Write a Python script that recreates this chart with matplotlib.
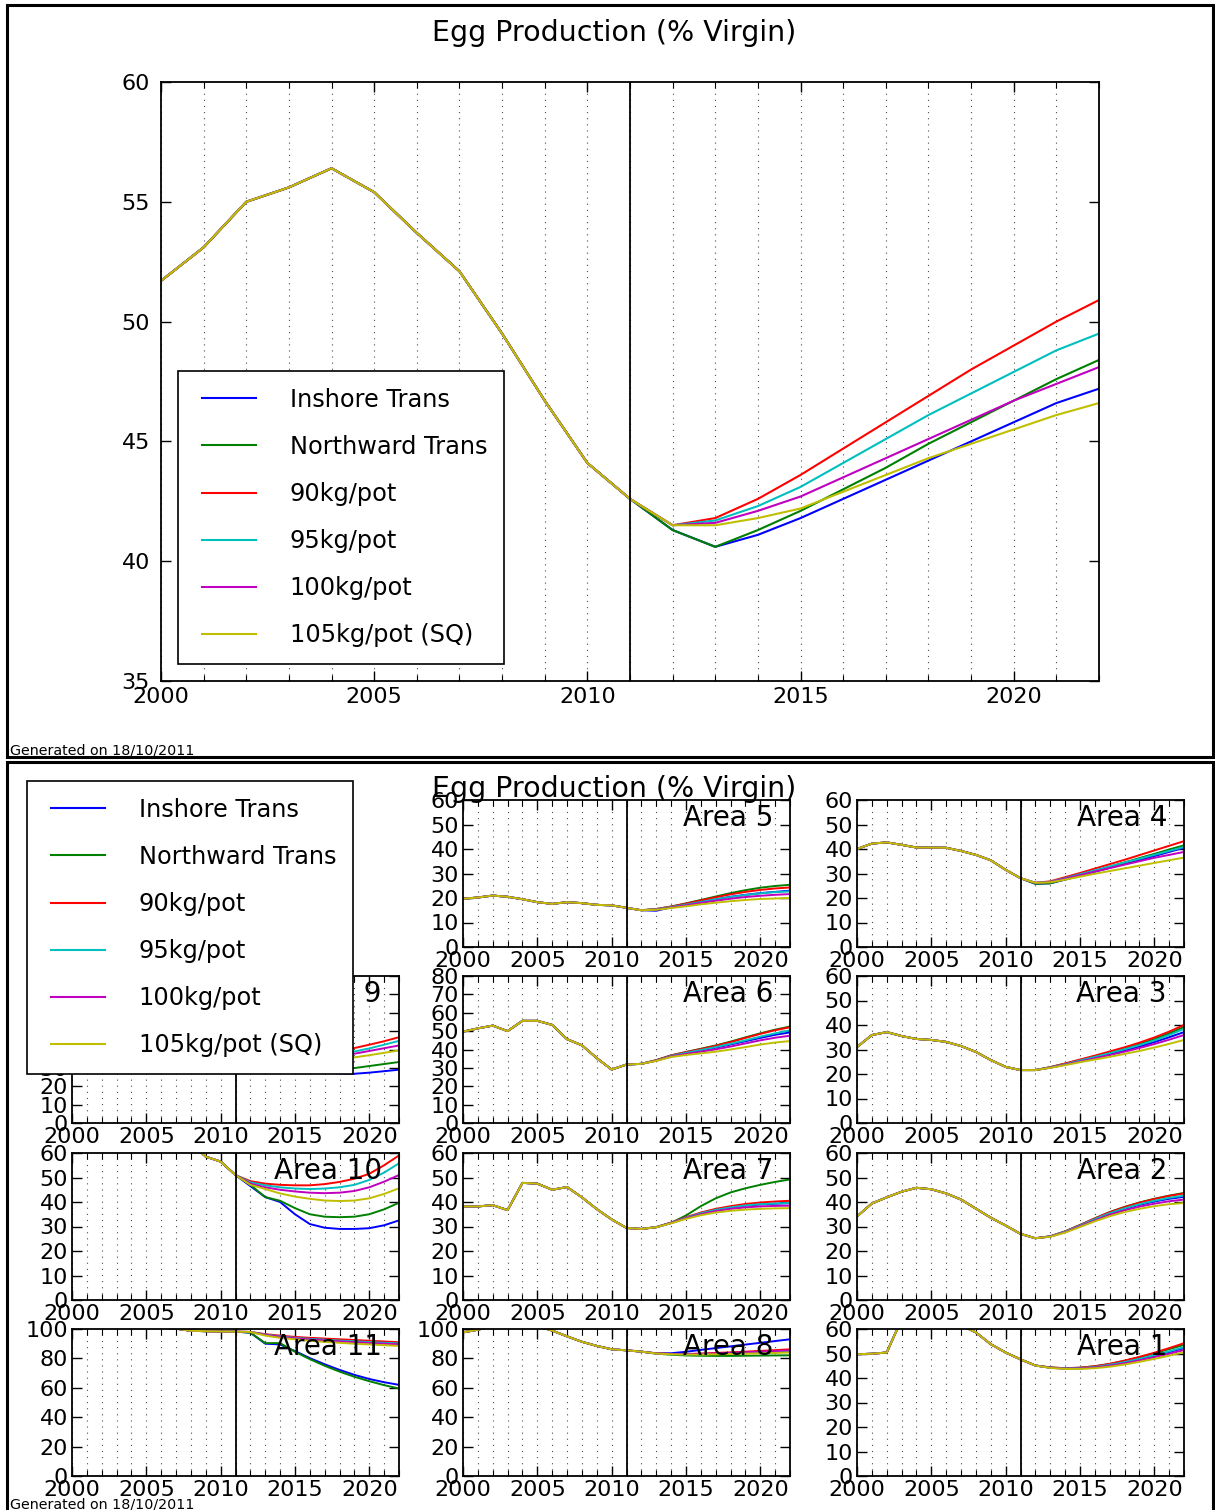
import matplotlib
matplotlib.use("Agg")
import matplotlib.pyplot as plt
from matplotlib.ticker import MultipleLocator
from matplotlib.patches import Rectangle
from matplotlib.lines import Line2D

# ---------------------------------------------------------------- data
years = list(range(2000, 2023))

scenarios = ["Inshore Trans", "Northward Trans", "90kg/pot",
             "95kg/pot", "100kg/pot", "105kg/pot (SQ)"]
scenario_colors = ["#0000ff", "#008000", "#ff0000",
                   "#00bfbf", "#bf00bf", "#bfbf00"]

# Whole fishery, egg production as % of virgin
total_hist = [51.7, 53.1, 55.0, 55.6, 56.4, 55.4, 53.7, 52.1, 49.5, 46.7, 44.1, 42.6]
total_inshore = [41.3, 40.6, 41.1, 41.8, 42.6, 43.4, 44.2, 45.0, 45.8, 46.6, 47.2]
total_northward = [41.3, 40.6, 41.3, 42.1, 43.0, 43.9, 44.9, 45.8, 46.7, 47.6, 48.4]
total_90 = [41.5, 41.8, 42.6, 43.6, 44.7, 45.8, 46.9, 48.0, 49.0, 50.0, 50.9]
total_95 = [41.5, 41.7, 42.3, 43.1, 44.1, 45.1, 46.1, 47.0, 47.9, 48.8, 49.5]
total_100 = [41.5, 41.6, 42.1, 42.7, 43.5, 44.3, 45.1, 45.9, 46.7, 47.4, 48.1]
total_105 = [41.5, 41.5, 41.8, 42.2, 42.9, 43.6, 44.3, 44.9, 45.5, 46.1, 46.6]

# Per-area history (2000-2011) and projections (2012-2022), scenario order as above
area5_hist = [19.7, 20.2, 21.0, 20.5, 19.5, 18.3, 17.6, 18.3, 17.9, 17.2, 17.0, 16.0]
area5_proj = [
    [15.0, 14.8, 16.2, 17.3, 18.4, 19.5, 20.5, 21.3, 22.0, 22.5, 23.0],
    [15.0, 15.5, 16.5, 17.8, 19.2, 20.6, 22.0, 23.2, 24.2, 24.9, 25.4],
    [15.0, 15.5, 16.5, 17.7, 19.0, 20.3, 21.5, 22.5, 23.3, 23.9, 24.3],
    [15.0, 15.4, 16.3, 17.3, 18.4, 19.5, 20.4, 21.2, 21.9, 22.4, 22.7],
    [15.0, 15.3, 16.1, 17.0, 18.0, 18.9, 19.7, 20.4, 20.9, 21.3, 21.6],
    [15.0, 15.2, 15.9, 16.6, 17.4, 18.1, 18.7, 19.2, 19.6, 19.8, 20.0],
]
area4_hist = [40.0, 42.2, 42.7, 41.7, 40.6, 40.6, 40.5, 39.2, 37.6, 35.4, 31.5, 28.1]
area4_proj = [
    [25.8, 26.0, 27.5, 29.1, 30.7, 32.3, 33.9, 35.5, 37.1, 38.8, 40.5],
    [25.8, 26.0, 27.6, 29.3, 31.0, 32.8, 34.5, 36.3, 38.0, 39.8, 41.5],
    [26.2, 26.8, 28.5, 30.2, 32.0, 33.8, 35.6, 37.5, 39.4, 41.3, 43.2],
    [26.2, 26.6, 28.1, 29.7, 31.3, 32.9, 34.5, 36.0, 37.6, 39.2, 40.8],
    [26.2, 26.5, 27.9, 29.3, 30.8, 32.2, 33.6, 35.0, 36.4, 37.6, 38.8],
    [26.2, 26.4, 27.5, 28.7, 29.9, 31.0, 32.1, 33.2, 34.3, 35.4, 36.5],
]
area9_hist = [52.0, 54.0, 55.0, 54.0, 52.0, 51.0, 50.0, 48.0, 46.0, 44.0, 42.0, 41.0]
area9_proj = [
    [39.5, 35.5, 32.5, 30.0, 28.3, 27.5, 27.0, 26.8, 27.4, 28.2, 29.0],
    [39.5, 36.5, 34.0, 32.0, 30.5, 29.8, 29.6, 29.9, 31.0, 32.1, 33.2],
    [40.0, 39.5, 39.3, 39.2, 39.3, 39.6, 40.1, 40.8, 42.6, 44.5, 46.7],
    [40.0, 39.0, 38.5, 38.2, 38.1, 38.2, 38.5, 38.9, 40.6, 42.6, 44.7],
    [40.0, 38.7, 38.0, 37.5, 37.2, 37.1, 37.2, 37.7, 39.2, 40.7, 42.2],
    [39.8, 38.2, 37.0, 36.0, 35.3, 35.0, 35.1, 35.7, 36.9, 38.2, 39.5],
]
area6_hist = [49.7, 51.5, 53.0, 50.0, 55.6, 55.6, 53.4, 45.6, 42.3, 35.3, 29.1, 31.8]
area6_proj = [
    [32.2, 34.0, 36.4, 38.0, 39.4, 41.0, 42.7, 44.5, 46.3, 48.0, 49.3],
    [32.2, 34.2, 36.8, 38.6, 40.4, 42.2, 44.3, 46.6, 48.8, 50.8, 52.5],
    [32.2, 34.2, 36.8, 38.6, 40.2, 42.0, 44.0, 46.3, 48.5, 50.5, 52.1],
    [32.2, 34.0, 36.5, 38.2, 39.7, 41.3, 43.1, 45.0, 47.0, 48.8, 50.4],
    [32.2, 33.9, 36.2, 37.6, 38.8, 40.1, 41.6, 43.3, 45.0, 46.4, 47.5],
    [32.2, 33.8, 35.9, 37.0, 37.9, 38.8, 40.0, 41.3, 42.7, 43.8, 44.6],
]
area3_hist = [31.0, 35.9, 37.1, 35.5, 34.3, 33.9, 33.1, 31.4, 29.0, 25.7, 22.9, 21.6]
area3_proj = [
    [21.6, 22.6, 23.9, 25.3, 26.7, 28.1, 29.6, 31.2, 33.0, 35.0, 37.1],
    [21.6, 22.8, 24.2, 25.7, 27.2, 28.8, 30.4, 32.2, 34.2, 36.6, 39.2],
    [21.6, 22.8, 24.3, 25.9, 27.5, 29.2, 30.9, 32.8, 34.9, 37.3, 40.0],
    [21.6, 22.7, 24.0, 25.5, 27.0, 28.5, 30.1, 31.8, 33.7, 35.9, 38.4],
    [21.6, 22.6, 23.8, 25.1, 26.4, 27.7, 29.1, 30.6, 32.2, 34.0, 35.9],
    [21.6, 22.5, 23.6, 24.8, 25.9, 27.0, 28.2, 29.4, 30.8, 32.3, 33.9],
]
area10_hist = [75.0, 74.0, 72.0, 70.0, 69.0, 68.0, 67.0, 66.0, 64.0, 58.5, 56.5, 51.0]
area10_proj = [
    [46.5, 42.0, 40.0, 35.0, 31.0, 29.5, 29.0, 29.0, 29.3, 30.5, 32.5],
    [47.0, 42.0, 40.5, 37.5, 35.0, 34.0, 33.8, 34.0, 35.0, 37.0, 39.7],
    [48.5, 47.5, 47.0, 46.8, 46.8, 47.3, 48.2, 49.5, 51.5, 55.0, 59.0],
    [48.0, 46.8, 46.0, 45.5, 45.3, 45.5, 46.0, 47.0, 49.0, 52.0, 55.8],
    [47.5, 46.0, 45.0, 44.3, 43.8, 43.6, 43.8, 44.5, 46.0, 48.3, 51.0],
    [47.0, 45.3, 43.5, 42.2, 41.3, 40.6, 40.4, 40.6, 41.5, 43.3, 45.6],
]
area7_hist = [38.2, 38.2, 38.7, 36.7, 47.8, 47.5, 45.0, 46.1, 41.9, 37.1, 32.9, 29.4]
area7_proj = [
    [29.0, 29.7, 31.5, 33.6, 35.3, 36.7, 37.7, 38.5, 39.0, 39.3, 39.5],
    [29.0, 29.7, 31.5, 34.5, 38.3, 41.5, 43.9, 45.6, 47.0, 48.2, 49.2],
    [29.0, 29.8, 31.6, 33.8, 35.7, 37.2, 38.3, 39.2, 39.8, 40.2, 40.5],
    [29.0, 29.8, 31.5, 33.6, 35.4, 36.8, 37.8, 38.6, 39.1, 39.4, 39.6],
    [29.0, 29.7, 31.4, 33.4, 35.0, 36.3, 37.2, 37.8, 38.2, 38.4, 38.5],
    [29.0, 29.7, 31.3, 33.1, 34.6, 35.7, 36.4, 36.9, 37.2, 37.4, 37.5],
]
area2_hist = [34.1, 39.4, 41.9, 44.2, 45.8, 45.2, 43.5, 41.0, 37.3, 33.6, 30.4, 27.0]
area2_proj = [
    [25.2, 25.9, 27.8, 30.3, 32.8, 35.2, 37.2, 38.8, 40.2, 41.3, 42.1],
    [25.2, 26.0, 28.0, 30.6, 33.3, 35.9, 38.0, 39.8, 41.3, 42.6, 43.7],
    [25.2, 26.0, 28.0, 30.6, 33.3, 35.8, 37.9, 39.7, 41.2, 42.5, 43.5],
    [25.2, 26.0, 27.9, 30.4, 33.0, 35.4, 37.4, 39.1, 40.5, 41.7, 42.6],
    [25.2, 25.9, 27.7, 30.1, 32.5, 34.8, 36.6, 38.1, 39.3, 40.3, 41.0],
    [25.2, 25.8, 27.5, 29.8, 32.1, 34.2, 35.9, 37.2, 38.3, 39.1, 39.6],
]
area11_hist = [104.0, 105.0, 105.0, 104.0, 103.0, 102.0, 101.0, 100.2, 98.8, 98.5, 98.3, 98.2]
area11_proj = [
    [97.5, 90.0, 89.5, 85.0, 80.2, 76.0, 72.2, 68.8, 66.0, 63.8, 62.0],
    [97.5, 90.4, 90.4, 84.5, 79.5, 75.0, 71.0, 67.5, 64.5, 61.8, 59.5],
    [98.0, 96.5, 95.5, 94.6, 94.0, 93.5, 93.0, 92.5, 92.0, 91.5, 91.0],
    [98.0, 96.2, 95.0, 94.0, 93.3, 92.7, 92.1, 91.6, 91.1, 90.6, 90.2],
    [98.0, 96.0, 94.7, 93.7, 92.9, 92.2, 91.6, 91.0, 90.5, 90.0, 89.6],
    [98.0, 95.5, 94.0, 93.0, 92.0, 91.2, 90.6, 90.0, 89.5, 89.0, 88.5],
]
area8_hist = [97.7, 99.5, 102.0, 104.0, 104.0, 102.0, 98.9, 95.0, 91.3, 88.5, 86.2, 85.5]
area8_proj = [
    [84.6, 83.5, 83.5, 84.5, 85.8, 87.0, 88.2, 89.4, 90.6, 91.8, 93.0],
    [84.6, 83.2, 82.5, 82.0, 81.8, 81.7, 81.7, 81.8, 81.9, 82.0, 82.1],
    [84.6, 83.4, 83.0, 83.0, 83.3, 83.7, 84.1, 84.6, 85.1, 85.6, 86.2],
    [84.6, 83.3, 82.9, 82.7, 82.8, 83.0, 83.3, 83.6, 84.0, 84.3, 84.6],
    [84.6, 83.4, 83.0, 82.9, 83.1, 83.4, 83.8, 84.2, 84.6, 85.0, 85.5],
    [84.6, 83.3, 82.8, 82.6, 82.6, 82.8, 83.0, 83.2, 83.5, 83.7, 84.0],
]
area1_hist = [49.7, 49.9, 50.4, 64.0, 67.0, 68.0, 66.0, 61.5, 58.6, 53.8, 50.4, 47.6]
area1_proj = [
    [45.1, 44.2, 43.9, 44.0, 44.5, 45.3, 46.4, 47.7, 49.1, 50.6, 52.2],
    [45.1, 44.3, 44.0, 44.2, 44.8, 45.7, 47.0, 48.5, 50.1, 51.8, 53.5],
    [45.1, 44.3, 44.0, 44.2, 44.8, 45.8, 47.1, 48.6, 50.3, 52.2, 54.2],
    [45.1, 44.2, 43.9, 44.0, 44.5, 45.4, 46.5, 47.8, 49.3, 50.9, 52.6],
    [45.1, 44.2, 43.8, 43.9, 44.3, 45.0, 46.0, 47.2, 48.5, 49.9, 51.4],
    [45.1, 44.1, 43.7, 43.7, 44.0, 44.6, 45.5, 46.6, 47.8, 49.1, 50.5],
]

# grid position -> (label, history, projections, y max)
panels = {
    (0, 1): ("Area 5", area5_hist, area5_proj, 60),
    (0, 2): ("Area 4", area4_hist, area4_proj, 60),
    (1, 0): ("Area 9", area9_hist, area9_proj, 80),
    (1, 1): ("Area 6", area6_hist, area6_proj, 80),
    (1, 2): ("Area 3", area3_hist, area3_proj, 60),
    (2, 0): ("Area 10", area10_hist, area10_proj, 60),
    (2, 1): ("Area 7", area7_hist, area7_proj, 60),
    (2, 2): ("Area 2", area2_hist, area2_proj, 60),
    (3, 0): ("Area 11", area11_hist, area11_proj, 100),
    (3, 1): ("Area 8", area8_hist, area8_proj, 100),
    (3, 2): ("Area 1", area1_hist, area1_proj, 60),
}
current_year = 2011

# ---------------------------------------------------------------- style
W, H = 1215, 1510
plt.rcParams.update({
    "font.family": "DejaVu Sans",
    "axes.linewidth": 1.3,
    "xtick.direction": "in", "ytick.direction": "in",
    "xtick.top": True, "ytick.right": True,
    "xtick.major.size": 7, "ytick.major.size": 7,
    "xtick.minor.size": 4, "ytick.minor.size": 4,
    "xtick.major.width": 1.0, "ytick.major.width": 1.0,
    "xtick.minor.width": 0.8,
})

fig = plt.figure(figsize=(W / 100, H / 100), dpi=100)

LEGEND_KW = dict(loc="upper left", borderaxespad=0, fontsize=17.3,
                 numpoints=2, handlelength=2.85, handletextpad=1.1,
                 labelspacing=0.96, borderpad=0.7, fancybox=False,
                 framealpha=1, edgecolor="black")


def fig_rect(x0, y0, x1, y1):
    """Pixel box (top-left origin) -> figure fraction rect."""
    return [x0 / W, 1 - y1 / H, (x1 - x0) / W, (y1 - y0) / H]


def draw_series(ax, hist, projs, lw):
    for proj, col, lab in zip(projs, scenario_colors, scenarios):
        ax.plot(years, hist + proj, color=col, lw=lw, label=lab,
                solid_joinstyle="round")


def style_axes(ax, ylim, ystep, labelsize, ypad, xpad):
    ax.set_xlim(2000, 2022)
    ax.set_ylim(*ylim)
    ax.xaxis.set_major_locator(MultipleLocator(5))
    ax.xaxis.set_minor_locator(MultipleLocator(1))
    ax.yaxis.set_major_locator(MultipleLocator(ystep))
    ax.grid(True, which="both", axis="x", color="0.3",
            linestyle=(0, (1, 4.5)), lw=0.8)
    ax.axvline(current_year, color="black", lw=1.3, zorder=3)
    ax.tick_params(axis="y", labelsize=labelsize, pad=ypad)
    ax.tick_params(axis="x", labelsize=labelsize, pad=xpad)


# ---------------------------------------------------------------- top figure
ax_top = fig.add_axes(fig_rect(161, 82, 1099, 681))
total_projs = [total_inshore, total_northward, total_90, total_95, total_100, total_105]
draw_series(ax_top, total_hist, total_projs, lw=1.5)
style_axes(ax_top, (35, 60), 5, 16, 8, 4)
top_leg = ax_top.legend(bbox_to_anchor=(178 / W, 1 - 371 / H),
                        bbox_transform=fig.transFigure, **LEGEND_KW)
top_leg.get_frame().set_linewidth(1.2)

fig.text(614 / W, 1 - 33 / H, "Egg Production (% Virgin)", ha="center",
         va="center", fontsize=20.5)
fig.text(10 / W, 1 - 755 / H, "Generated on 18/10/2011", ha="left",
         va="baseline", fontsize=10.3)

# ---------------------------------------------------------------- area grid
col_x = [72, 463, 857]
row_y = [800, 976, 1153, 1329]
pw, ph = 327, 147

for (r, c), (label, hist, projs, ymax) in panels.items():
    x0, y0 = col_x[c], row_y[r]
    ax = fig.add_axes(fig_rect(x0, y0, x0 + pw, y0 + ph))
    draw_series(ax, hist, projs, lw=1.4)
    style_axes(ax, (0, ymax), 20 if ymax == 100 else 10, 16, 3, 3)
    ax.text(0.948, 0.975, label, transform=ax.transAxes, ha="right",
            va="top", fontsize=20, zorder=4)

fig.text(614 / W, 1 - 789 / H, "Egg Production (% Virgin)", ha="center",
         va="center", fontsize=20.5, zorder=5)

handles = [Line2D([], [], color=c, lw=1.5) for c in scenario_colors]
leg = fig.legend(handles, scenarios, bbox_to_anchor=(27 / W, 1 - 781 / H),
                 **LEGEND_KW)
leg.get_frame().set_linewidth(1.2)
leg.set_zorder(10)

fig.text(10 / W, 1 - 1497 / H, "Generated on 18/10/2011", ha="left",
         va="top", fontsize=10.3)

# panel frames
for (y0, y1) in [(5, 757), (762, 1520)]:
    fig.patches.append(Rectangle((7 / W, 1 - y1 / H), (1213 - 7) / W,
                                 (y1 - y0) / H, transform=fig.transFigure,
                                 fill=False, edgecolor="black", lw=2.2))

fig.savefig("out.png", dpi=100)
